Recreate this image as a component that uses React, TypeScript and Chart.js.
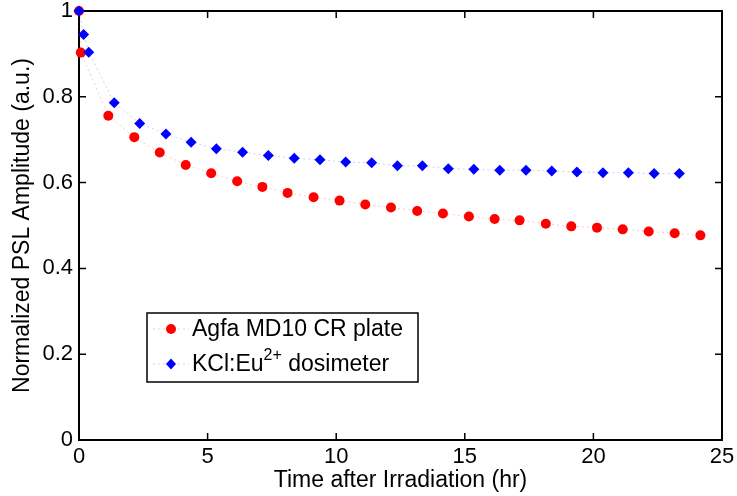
import React, { useEffect, useRef } from "react";
import { Chart, registerables } from "chart.js";

Chart.register(...registerables);

// ---- data ----
const agfaTime = [0, 0.07, 1.14, 2.15, 3.14, 4.15, 5.14, 6.15, 7.13, 8.11, 9.12, 10.13, 11.13, 12.13, 13.15, 14.15, 15.16, 16.16, 17.13, 18.15, 19.14, 20.14, 21.14, 22.15, 23.16, 24.16];
const agfaValue = [1.0, 0.903, 0.756, 0.706, 0.67, 0.641, 0.622, 0.603, 0.59, 0.576, 0.566, 0.558, 0.549, 0.542, 0.534, 0.528, 0.521, 0.515, 0.512, 0.504, 0.498, 0.495, 0.491, 0.486, 0.482, 0.477];
const kclTime = [0, 0.18, 0.38, 1.37, 2.36, 3.38, 4.36, 5.34, 6.36, 7.36, 8.37, 9.37, 10.37, 11.38, 12.38, 13.35, 14.36, 15.35, 16.36, 17.38, 18.38, 19.36, 20.37, 21.36, 22.36, 23.34];
const kclValue = [1.0, 0.945, 0.904, 0.786, 0.738, 0.713, 0.694, 0.679, 0.671, 0.663, 0.657, 0.653, 0.648, 0.646, 0.639, 0.639, 0.632, 0.631, 0.629, 0.629, 0.627, 0.625, 0.623, 0.623, 0.621, 0.621];
const seriesLabels = ["Agfa MD10 CR plate", "KCl:Eu^{2+} dosimeter"];
const xAxisTitle = "Time after Irradiation (hr)";
const yAxisTitle = "Normalized PSL Amplitude (a.u.)";
const xRange = [0, 25];
const yRange = [0, 1];
const xStep = 5;
const yStep = 0.2;

const FONT = "'Liberation Sans', Arial, Helvetica, sans-serif";

const framePlugin = {
  id: "frameTicks",
  beforeDatasetsDraw(chart: any) {
    const { ctx, chartArea, scales } = chart;
    const { left, right, top, bottom } = chartArea;
    const xs = scales.x;
    const ys = scales.y;
    ctx.save();
    ctx.strokeStyle = "#000";
    ctx.lineWidth = 1.5;
    const tl = 7;
    ctx.beginPath();
    xs.ticks.forEach((t: any) => {
      const px = xs.getPixelForValue(t.value);
      ctx.moveTo(px, bottom);
      ctx.lineTo(px, bottom - tl);
      ctx.moveTo(px, top);
      ctx.lineTo(px, top + tl);
    });
    ys.ticks.forEach((t: any) => {
      const py = ys.getPixelForValue(t.value);
      ctx.moveTo(left, py);
      ctx.lineTo(left + tl, py);
      ctx.moveTo(right, py);
      ctx.lineTo(right - tl, py);
    });
    ctx.stroke();
    ctx.lineWidth = 2;
    ctx.strokeRect(left, top, right - left, bottom - top);
    ctx.restore();
  },
};

function drawLabel(ctx: CanvasRenderingContext2D, text: string, x: number, baseline: number) {
  const parts = text.split(/(\^\{[^}]*\})/);
  let cx = x;
  parts.forEach((p) => {
    if (!p) return;
    if (p.startsWith("^{")) {
      const s = p.slice(2, -1);
      ctx.font = `16px ${FONT}`;
      ctx.fillText(s, cx, baseline - 11);
      cx += ctx.measureText(s).width;
    } else {
      ctx.font = `23px ${FONT}`;
      ctx.fillText(p, cx, baseline);
      cx += ctx.measureText(p).width;
    }
  });
}

const legendPlugin = {
  id: "insideLegend",
  afterDraw(chart: any) {
    const { ctx, chartArea } = chart;
    const bx = chartArea.left + 68;
    const by = chartArea.top + 302;
    const bw = 271;
    const bh = 69;
    ctx.save();
    ctx.fillStyle = "#fff";
    ctx.fillRect(bx, by, bw, bh);
    ctx.strokeStyle = "#000";
    ctx.lineWidth = 1.5;
    ctx.strokeRect(bx, by, bw, bh);
    const rows = [by + 16, by + 51];
    chart.data.datasets.forEach((ds: any, i: number) => {
      const cy = rows[i];
      ctx.save();
      ctx.strokeStyle = ds.borderColor;
      ctx.lineWidth = 1;
      ctx.setLineDash([2, 3]);
      ctx.beginPath();
      ctx.moveTo(bx + 6, cy);
      ctx.lineTo(bx + 42, cy);
      ctx.stroke();
      ctx.restore();
      ctx.fillStyle = ds.pointBackgroundColor;
      ctx.beginPath();
      const mx = bx + 24;
      if (ds.pointStyle === "rectRot") {
        const r = 5.5;
        ctx.moveTo(mx - r + 0.5, cy);
        ctx.lineTo(mx, cy - r);
        ctx.lineTo(mx + r - 0.5, cy);
        ctx.lineTo(mx, cy + r);
        ctx.closePath();
      } else {
        ctx.arc(mx, cy, 5, 0, Math.PI * 2);
      }
      ctx.fill();
      ctx.fillStyle = "#000";
      ctx.textBaseline = "alphabetic";
      ctx.textAlign = "left";
      drawLabel(ctx, ds.label, bx + 45, cy + 7);
    });
    ctx.restore();
  },
};

const fmtTick = (v: any) => String(Number(Number(v).toFixed(2)));

export default function App() {
  const ref = useRef<HTMLCanvasElement | null>(null);
  useEffect(() => {
    if (!ref.current) return;
    const chart = new Chart(ref.current, {
      type: "line",
      data: {
        datasets: [
          {
            label: seriesLabels[0],
            data: agfaTime.map((t, i) => ({ x: t, y: agfaValue[i] })),
            borderColor: "rgba(255,0,0,0.22)",
            borderWidth: 1,
            borderDash: [2, 3],
            pointStyle: "circle",
            pointRadius: 5,
            pointBorderWidth: 0,
            pointBackgroundColor: "#ff0000",
            pointBorderColor: "#ff0000",
            clip: false,
            order: 1,
          } as any,
          {
            label: seriesLabels[1],
            data: kclTime.map((t, i) => ({ x: t, y: kclValue[i] })),
            borderColor: "rgba(0,0,255,0.2)",
            borderWidth: 1,
            borderDash: [2, 3],
            pointStyle: "rectRot",
            pointRadius: 5.5,
            pointBorderWidth: 0,
            pointBackgroundColor: "#0000ff",
            pointBorderColor: "#0000ff",
            clip: false,
            order: 0,
          } as any,
        ],
      },
      options: {
        animation: false,
        responsive: true,
        maintainAspectRatio: false,
        layout: { padding: { top: 11, right: 15, bottom: 0, left: 0 } },
        plugins: { legend: { display: false }, tooltip: { enabled: false } },
        scales: {
          x: {
            type: "linear",
            min: xRange[0],
            max: xRange[1],
            grid: { display: false, drawTicks: false },
            border: { display: false },
            ticks: { stepSize: xStep, padding: 4, color: "#000", font: { family: FONT, size: 22 }, callback: fmtTick },
            title: { display: true, text: xAxisTitle, color: "#000", font: { family: FONT, size: 23 }, padding: { top: 0, bottom: 2 } },
            afterFit(s: any) {
              s.height = 56;
              s.paddingLeft = 0;
              s.paddingRight = 0;
            },
          },
          y: {
            type: "linear",
            min: yRange[0],
            max: yRange[1],
            grid: { display: false, drawTicks: false },
            border: { display: false },
            ticks: { stepSize: yStep, padding: 6, color: "#000", font: { family: FONT, size: 22 }, callback: fmtTick },
            title: { display: true, text: yAxisTitle, color: "#000", font: { family: FONT, size: 23 }, padding: { top: 9, bottom: 0 } },
            afterFit(s: any) {
              s.width = 79;
              s.paddingTop = 0;
              s.paddingBottom = 0;
            },
          },
        },
      } as any,
      plugins: [framePlugin, legendPlugin],
    });
    return () => chart.destroy();
  }, []);
  return (
    <div style={{ position: "fixed", left: 0, top: 0, width: 737, height: 496, background: "#fff" }}>
      <canvas ref={ref} />
    </div>
  );
}
